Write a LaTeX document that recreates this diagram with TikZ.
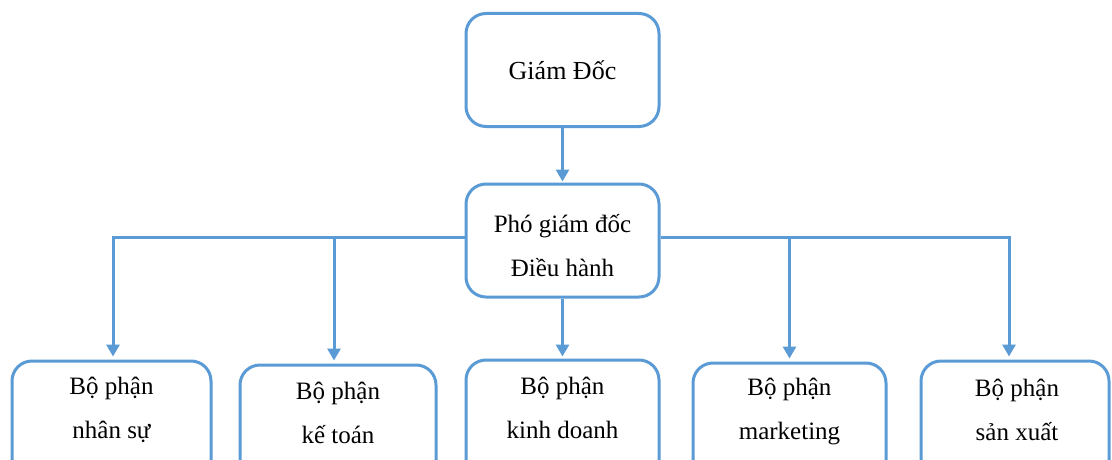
\documentclass[tikz,border=0pt]{standalone}
\usepackage{fontspec}
\setmainfont{Liberation Serif}
\usetikzlibrary{arrows.meta,calc}
\definecolor{boxblue}{HTML}{5B9BD5}
\tikzset{
  box/.style={draw=boxblue, line width=3pt, rounded corners=20pt, fill=white, inner sep=0pt},
  lbl/.style={align=center, font=\fontsize{25}{44}\selectfont, inner sep=0pt},
  conn/.style={draw=boxblue, line width=3pt},
  arr/.style={conn, -{Triangle[length=12pt,width=13pt]}, shorten >=3pt}
}
\begin{document}
\begin{tikzpicture}[x=1pt,y=1pt]
\useasboundingbox (0,0) rectangle (1112,459);
\clip (0,0) rectangle (1112,459);
% top boxes
\node[box, minimum width=193pt, minimum height=113pt] (gd) at (562.5,389) {};
\node[lbl, font=\fontsize{26}{44}\selectfont] (gdt) at (562.5,389) {Giám Đốc};
\node[box, minimum width=193pt, minimum height=113pt] (pgd) at (562.5,218.5) {};
\node[lbl] (pgdt) at (562.5,213) {Phó giám đốc\\Điều hành};
% bottom boxes
\node[box, minimum width=199pt, minimum height=130pt, anchor=north] (b1) at (111.5,99.5) {};
\node[box, minimum width=196pt, minimum height=130pt, anchor=north] (b2) at (338,95.5) {};
\node[box, minimum width=193pt, minimum height=130pt, anchor=north] (b3) at (562.5,100.5) {};
\node[box, minimum width=193pt, minimum height=130pt, anchor=north] (b4) at (789.5,97.5) {};
\node[box, minimum width=188pt, minimum height=130pt, anchor=north] (b5) at (1015,99.5) {};
\node[lbl] (t1) at (111.5,49) {Bộ phận\\nhân sự};
\node[lbl] (t2) at (338,46.5) {Bộ phận\\kế toán};
\node[lbl] (t3) at (562.5,51) {Bộ phận\\kinh doanh};
\node[lbl] (t4) at (789.5,47.5) {Bộ phận\\marketing};
\node[lbl] (t5) at (1017,49) {Bộ phận\\sản xuất};
% connectors
\coordinate (bus) at (0,222);
\draw[arr, shorten >=1pt] (gd) -- (pgd);
\draw[arr] (pgd.west |- bus) -| ([xshift=1.5pt]b1.north);
\draw[arr] ([xshift=-4pt]b2.north |- bus) -- ([xshift=-4pt]b2.north);
\draw[arr, shorten >=2pt] (pgd) -- (b3);
\draw[arr] (pgd.east |- bus) -| ([xshift=-6pt]b5.north);
\draw[arr] (b4.north |- bus) -- (b4.north);
\end{tikzpicture}
\end{document}
